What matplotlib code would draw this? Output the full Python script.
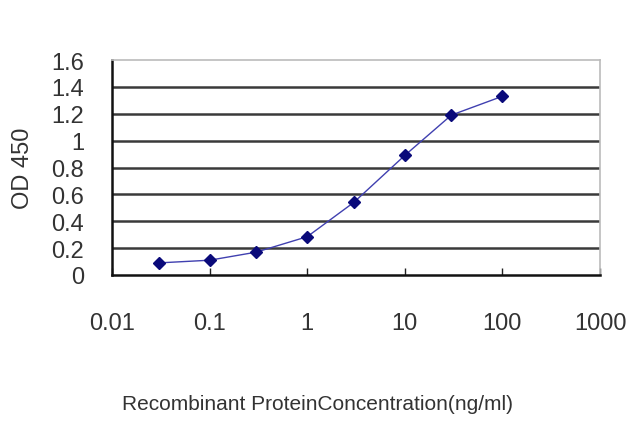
import numpy as np
import matplotlib.pyplot as plt
from matplotlib import font_manager

# 濃度と吸光度 (OD 450)
conc = [0.03, 0.1, 0.3, 1, 3, 10, 30, 100]
od450 = [0.09, 0.11, 0.17, 0.285, 0.54, 0.89, 1.19, 1.33]

x_ticks = [0.01, 0.1, 1, 10, 100, 1000]
x_tick_labels = ["0.01", "0.1", "1", "10", "100", "1000"]
y_ticks = [0, 0.2, 0.4, 0.6, 0.8, 1, 1.2, 1.4, 1.6]
y_tick_labels = ["0", "0.2", "0.4", "0.6", "0.8", "1", "1.2", "1.4", "1.6"]

names = {f.name for f in font_manager.fontManager.ttflist}
fam = "Liberation Sans Narrow" if "Liberation Sans Narrow" in names else "Liberation Sans"
plt.rcParams['font.family'] = [fam, 'DejaVu Sans']

fig = plt.figure(figsize=(6.4, 4.27), dpi=100)
ax = fig.add_axes([112/640, 1 - 276/427, 488/640, 215/427])

# グリッド線
for yv in y_ticks[1:-1]:
    ax.axhline(yv, color="#3a3a3a", lw=1.8, zorder=1)

ax.plot(conc, od450, color="#4040b0", lw=1.0, marker="D", markersize=6,
        markerfacecolor="#0a0a7a", markeredgecolor="#0a0a7a", zorder=3)

ax.set_xscale("log")
ax.set_xlim(0.01, 1000)
ax.set_ylim(0, 1.6)
ax.set_xticks(x_ticks)
ax.set_xticklabels(x_tick_labels)
ax.minorticks_off()
ax.set_yticks(y_ticks)
ax.set_yticklabels(y_tick_labels)

ax.tick_params(axis="x", direction="in", length=5, width=1, colors="#222222",
               labelsize=17, pad=27, labelcolor="#333333")
ax.tick_params(axis="y", length=0, labelsize=17, pad=20, labelcolor="#333333")

for s in ["left", "bottom"]:
    ax.spines[s].set_color("#111111")
    ax.spines[s].set_linewidth(1.8)
for s in ["top", "right"]:
    ax.spines[s].set_color("#bbbbbb")
    ax.spines[s].set_linewidth(1.2)

fig.text(23/640, 1 - 168/427, "OD 450", rotation=90, ha="center", va="center",
         fontsize=17, color="#333333")
fig.text(318/640, 1 - 405/427, "Recombinant ProteinConcentration(ng/ml)",
         ha="center", va="center", fontsize=15, color="#333333")

plt.savefig("out.png", dpi=100)
